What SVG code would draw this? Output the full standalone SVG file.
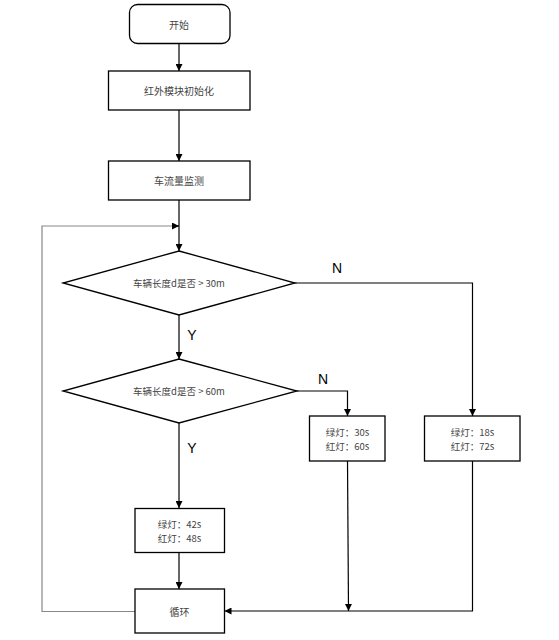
<svg xmlns="http://www.w3.org/2000/svg" width="559" height="640" viewBox="0 0 559 640">
<style>
.n{fill:#fff;stroke:#000;stroke-width:1.3}
.t{font-family:"Noto Sans CJK SC","Noto Sans",sans-serif;font-size:10px;fill:#444;text-anchor:middle;dominant-baseline:central}
.d{font-size:9.5px}
.s{font-size:9.5px}
.l{font-family:"Liberation Sans",Arial,sans-serif;font-size:14px;fill:#000;text-anchor:middle;dominant-baseline:central}
.c{fill:none;stroke:#000;stroke-width:1.2}
.g{fill:none;stroke:#888;stroke-width:1.2}
</style>
<defs>
<marker id="a" viewBox="0 0 10 10" refX="10" refY="5" markerWidth="7" markerHeight="7" markerUnits="userSpaceOnUse" orient="auto">
<path d="M0,0 L10,5 L0,10 z" fill="#000"/>
</marker>
</defs>
<rect width="559" height="640" fill="#fff"/>
<g id="connectors">
<path class="c" d="M179,43 V71" marker-end="url(#a)"/>
<path class="c" d="M179,110 V161" marker-end="url(#a)"/>
<path class="c" d="M179,200 V251" marker-end="url(#a)"/>
<path class="c" d="M179,315 V359" marker-end="url(#a)"/>
<path class="c" d="M179,423 V508" marker-end="url(#a)"/>
<path class="c" d="M179,552 V589" marker-end="url(#a)"/>
<path class="c" d="M295,283 H472.5 V416" marker-end="url(#a)"/>
<path class="c" d="M297,391 H347.5 V416" marker-end="url(#a)"/>
<path class="c" d="M347.5,461 L348.5,611" marker-end="url(#a)"/>
<path class="c" d="M472.5,461 V611 H224.5" marker-end="url(#a)"/>
<path class="g" d="M135,611.5 H42 V226 H172"/>
<path class="c" d="M172,226 H179" marker-end="url(#a)"/>
<text class="l" x="337" y="268">N</text>
<text class="l" x="192" y="335">Y</text>
<text class="l" x="323" y="379">N</text>
<text class="l" x="192" y="448">Y</text>
</g>
<g id="start"><rect class="n" x="129.5" y="4.5" width="100.5" height="39" rx="8"/><text class="t" x="179" y="24">开始</text></g>
<g id="init"><rect class="n" x="108.5" y="71" width="141.5" height="39"/><text class="t" x="179" y="90.5">红外模块初始化</text></g>
<g id="monitor"><rect class="n" x="108.5" y="161" width="141.5" height="39"/><text class="t" x="179" y="180.5">车流量监测</text></g>
<g id="dec30"><path class="n" d="M179,251 L295,283 L179,315 L63,283 Z"/><text class="t d" x="179" y="283">车辆长度d是否 &gt; 30m</text></g>
<g id="dec60"><path class="n" d="M179,359 L297,391 L179,423 L63,391 Z"/><text class="t d" x="179" y="391">车辆长度d是否 &gt; 60m</text></g>
<g id="g42"><rect class="n" x="135" y="508.5" width="89.5" height="44"/><text class="t s" x="179.5" y="523.5">绿灯：42s</text><text class="t s" x="179.5" y="537.5">红灯：48s</text></g>
<g id="g30"><rect class="n" x="309.5" y="416" width="75.5" height="45"/><text class="t s" x="347.5" y="432">绿灯：30s</text><text class="t s" x="347.5" y="446">红灯：60s</text></g>
<g id="g18"><rect class="n" x="424.5" y="416" width="95.5" height="45"/><text class="t s" x="472.5" y="432">绿灯：18s</text><text class="t s" x="472.5" y="446">红灯：72s</text></g>
<g id="loop"><rect class="n" x="135" y="589" width="89.5" height="44"/><text class="t" x="179.5" y="611">循环</text></g>
</svg>
